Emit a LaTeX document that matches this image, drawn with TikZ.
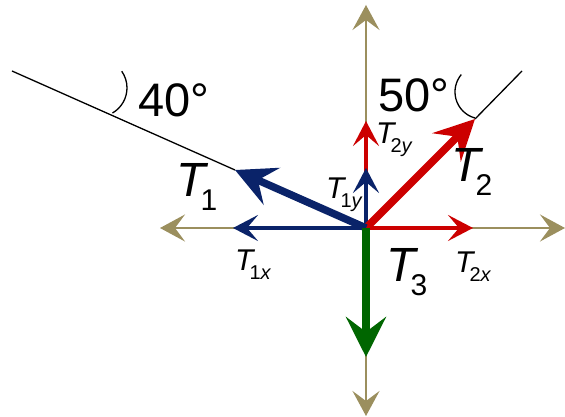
\documentclass[tikz,border=0pt]{standalone}
\usepackage{fontspec}
\setmainfont{Liberation Sans}
\usetikzlibrary{arrows.meta}

\definecolor{axiscol}{RGB}{155,143,94}
\definecolor{tblue}{RGB}{10,35,105}
\definecolor{tred}{RGB}{204,0,0}
\definecolor{tgreen}{RGB}{0,102,0}

\newcommand{\bigT}[1]{{\fontsize{48}{48}\selectfont\itshape T}\kern-5pt\raisebox{-14pt}{\fontsize{30}{30}\selectfont #1}}
\newcommand{\smallT}[1]{{\fontsize{30}{30}\selectfont\itshape T}\kern-4pt\raisebox{-9pt}{\fontsize{20}{20}\selectfont #1}}

\begin{document}
\begin{tikzpicture}[x=1pt, y=1pt]
    \tikzstyle{axisline} = [draw=axiscol, line width=2pt, {Stealth[length=25pt,width=27pt,inset=10pt]}-{Stealth[length=25pt,width=27pt,inset=10pt]}]
    \tikzstyle{comp}     = [line width=4pt, -{Stealth[length=25pt,width=26pt,inset=11pt]}]
    \tikzstyle{force}    = [line width=7.5pt, -{Stealth[length=40pt,width=40pt,inset=15pt]}]
    \tikzstyle{guide}    = [black, line width=1.3pt]
    \tikzstyle{lbl}      = [inner sep=0pt, anchor=north west]

    \useasboundingbox (-366,-189) rectangle (199,228);

    % Origin and tips
    \coordinate (O) at (0,0);
    \coordinate (axtop) at (0,223);
    \coordinate (axbot) at (0,-188);
    \coordinate (axleft) at (-206,0);
    \coordinate (axright) at (199,0);

    \coordinate (t1) at (-131,58);
    \coordinate (t1end) at (-354,157);
    \coordinate (t1x) at (-133,0);
    \coordinate (t1y) at (0,60);
    \coordinate (t2) at (109,109);
    \coordinate (t2end) at (156,157);
    \coordinate (t2x) at (107,0);
    \coordinate (t2y) at (0,107);
    \coordinate (t3) at (0,-129);

    % Axes
    \draw [axisline] (axleft) -- (axright);
    \draw [axisline] (axbot) -- (axtop);

    % Directions of the ropes
    \draw [guide] (t1) -- (t1end);
    \draw [guide] (t2) -- (t2end);
    \draw [guide] (-253.5,115) arc (-60:35:29);
    \draw [guide] (109,110) arc (255:140:27);

    % Components
    \draw [comp, tred] (O) -- (t2y);
    \draw [comp, tred] (O) -- (t2x);
    \draw [comp, tblue] (O) -- (t1x);
    \draw [comp, tblue] (O) -- (t1y);

    % Tensions
    \draw [force, tred] (O) -- (t2);
    \draw [force, tblue] (O) -- (t1);
    \draw [force, tgreen] (O) -- (t3);

    % Labels
    \node [lbl] (ang1) at (-228,145) {\fontsize{47}{47}\selectfont 40°};
    \node [lbl] (ang2) at (12,150) {\fontsize{47}{47}\selectfont 50°};
    \node [lbl] (lt1) at (-190,65) {\bigT{1}};
    \node [lbl] (lt2) at (85,80) {\bigT{2}};
    \node [lbl] (lt3) at (20,-20) {\bigT{3}};
    \node [lbl] (lt1x) at (-131,-22) {\smallT{1\textit{x}}};
    \node [lbl] (lt1y) at (-40,50) {\smallT{1\textit{y}}};
    \node [lbl] (lt2y) at (10,105) {\smallT{2\textit{y}}};
    \node [lbl] (lt2x) at (89,-24) {\smallT{2\textit{x}}};
\end{tikzpicture}
\end{document}
